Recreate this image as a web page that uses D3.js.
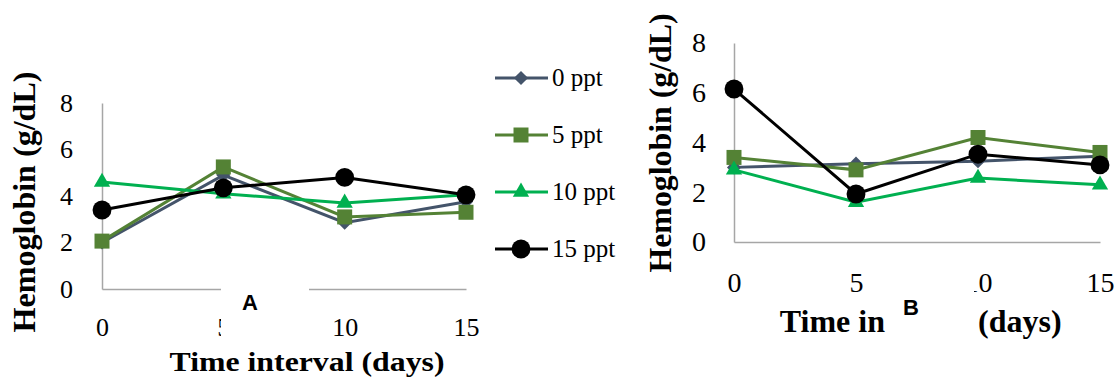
<!DOCTYPE html>
<html lang="en">
  <head>
    <meta charset="utf-8">
    <title>Hemoglobin</title>
    <script src="https://d3js.org/d3.v7.min.js"></script>
    <style>
      html, body { margin: 0; padding: 0; background: #fff; }
      svg { display: block; }
    </style>
  </head>
  <body>
    <svg width="1116" height="379"></svg>
    <script>
      // days on the x axis
      var days = [0, 5, 10, 15];
      var yTicks = [0, 2, 4, 6, 8];
      var seriesNames = ['0 ppt', '5 ppt', '10 ppt', '15 ppt'];

      // panel A values (g/dL)
      var a0 = [2.0, 4.9, 2.85, 3.75];
      var a5 = [2.06, 5.25, 3.1, 3.3];
      var a10 = [4.6, 4.1, 3.7, 4.05];
      var a15 = [3.4, 4.35, 4.8, 4.05];

      // panel B values (g/dL)
      var b0 = [3.0, 3.15, 3.25, 3.45];
      var b5 = [3.4, 2.9, 4.2, 3.6];
      var b10 = [2.9, 1.6, 2.57, 2.3];
      var b15 = [6.15, 1.93, 3.53, 3.1];

      var SERIF = '"Liberation Serif", "Times New Roman", Times, serif';
      var SANS = '"Liberation Sans", Arial, sans-serif';

      var colors = ['#44546a', '#548235', '#00b050', '#000000'];
      var shapes = [
        d3.symbol().type(d3.symbolSquare).size(100),
        d3.symbol().type(d3.symbolSquare).size(225),
        d3.symbol().type(d3.symbolTriangle).size(115),
        d3.symbol().type(d3.symbolCircle).size(280)
      ];
      var rotations = [45, 0, 0, 0];

      var svg = d3.select('svg');

      function boldText(g, size) {
        return g.append('text')
          .style('font-family', SERIF)
          .style('font-weight', 'bold')
          .style('font-size', size + 'px')
          .attr('fill', '#000');
      }

      function panel(opts) {
        var x = d3.scaleLinear().domain([0, 15]).range(opts.xr);
        var y = d3.scaleLinear().domain([0, 8]).range(opts.yr);
        var g = svg.append('g');

        // axes
        var yAxis = g.append('g')
          .attr('transform', 'translate(' + opts.xr[0] + ',0)')
          .call(d3.axisLeft(y).tickValues(yTicks).tickSize(0).tickPadding(opts.yPad));
        var xAxis = g.append('g')
          .attr('transform', 'translate(0,' + opts.yr[0] + ')')
          .call(d3.axisBottom(x).tickValues(days).tickSize(0).tickPadding(opts.xPad));
        [xAxis, yAxis].forEach(function(ax) {
          ax.attr('font-family', null).attr('font-size', null);
          ax.select('.domain').attr('stroke', '#a6a6a6').attr('stroke-width', 1.5);
          ax.selectAll('text')
            .style('font-family', SERIF)
            .style('font-size', opts.tickSize + 'px')
            .attr('fill', '#000');
        });

        var line = d3.line().x(function(d, i) { return x(days[i]); }).y(function(d) { return y(d); });

        opts.data.forEach(function(vals, s) {
          g.append('path')
            .datum(vals)
            .attr('d', line)
            .attr('fill', 'none')
            .attr('stroke', colors[s])
            .attr('stroke-width', 3);
          g.selectAll('.m' + s)
            .data(vals)
            .enter().append('path')
            .attr('class', 'm' + s)
            .attr('d', shapes[s])
            .attr('fill', colors[s])
            .attr('transform', function(d, i) {
              return 'translate(' + x(days[i]) + ',' + y(d) + ') rotate(' + rotations[s] + ')';
            });
        });

        // y title
        boldText(g, opts.yTitle[2])
          .attr('text-anchor', 'middle')
          .attr('transform', 'translate(' + opts.yTitle[0] + ',' + opts.yTitle[1] + ') rotate(-90)')
          .attr('textLength', opts.yTitle[3])
          .attr('lengthAdjust', 'spacingAndGlyphs')
          .text('Hemoglobin  (g/dL)');

        // white patch with panel letter
        g.append('rect')
          .attr('x', opts.box[0]).attr('y', opts.box[1])
          .attr('width', opts.box[2]).attr('height', opts.box[3])
          .attr('fill', '#fff');
        g.append('text')
          .style('font-family', SANS)
          .style('font-weight', 'bold')
          .style('font-size', '22px')
          .attr('text-anchor', 'middle')
          .attr('x', opts.tag[0]).attr('y', opts.tag[1])
          .text(opts.letter);
        return g;
      }

      var gA = panel({
        xr: [102, 466], yr: [289, 103],
        yPad: 29, xPad: 29, tickSize: 26,
        data: [a0, a5, a10, a15],
        yTitle: [35, 202, 31, 261],
        box: [221, 286, 88, 58],
        tag: [250, 310], letter: 'A'
      });
      boldText(gA, 27)
        .attr('text-anchor', 'middle')
        .attr('x', 307).attr('y', 371)
        .attr('textLength', 275)
        .attr('lengthAdjust', 'spacingAndGlyphs')
        .text('Time interval (days)');

      var gB = panel({
        xr: [734, 1100], yr: [242, 43],
        yPad: 28, xPad: 30, tickSize: 28,
        data: [b0, b5, b10, b15],
        yTitle: [671, 143, 31, 259],
        box: [886, 273, 88, 26],
        tag: [911, 315], letter: 'B'
      });
      // the middle of panel B's title is hidden in the source figure
      boldText(gB, 32)
        .attr('text-anchor', 'end')
        .attr('x', 885).attr('y', 332)
        .text('Time in');
      boldText(gB, 32)
        .attr('text-anchor', 'start')
        .attr('x', 978).attr('y', 332)
        .text('(days)');

      // legend
      var legend = svg.append('g').attr('transform', 'translate(495,78)');
      var item = legend.selectAll('g')
        .data(seriesNames)
        .enter().append('g')
        .attr('transform', function(d, i) { return 'translate(0,' + (i * 57) + ')'; });
      item.append('line')
        .attr('x1', 0).attr('x2', 53)
        .attr('stroke', function(d, i) { return colors[i]; })
        .attr('stroke-width', 3);
      item.append('path')
        .attr('d', function(d, i) { return shapes[i](); })
        .attr('fill', function(d, i) { return colors[i]; })
        .attr('transform', function(d, i) { return 'translate(26,0) rotate(' + rotations[i] + ')'; });
      item.append('text')
        .style('font-family', SERIF)
        .style('font-size', '25px')
        .attr('fill', '#000')
        .attr('x', 57).attr('y', 8)
        .text(function(d) { return d; });
    </script>
  </body>
</html>
